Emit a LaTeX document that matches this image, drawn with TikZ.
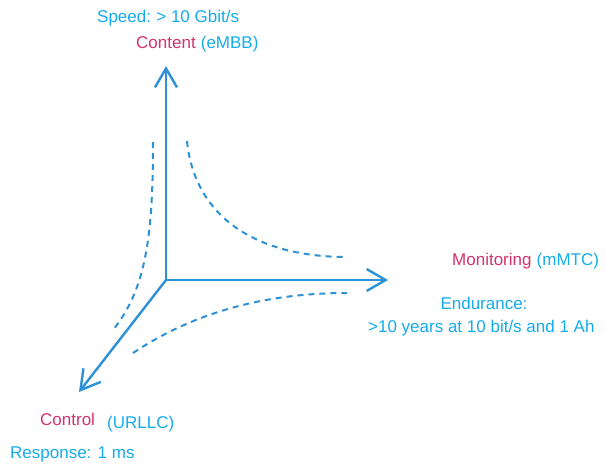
\documentclass[tikz,border=0pt]{standalone}
\usepackage{fontspec}
\setmainfont{Liberation Sans}
\usetikzlibrary{arrows.meta}
\definecolor{axisblue}{RGB}{45,145,215}
\definecolor{txtblue}{RGB}{20,172,235}
\definecolor{txtmag}{RGB}{210,50,110}
\begin{document}
\begin{tikzpicture}[x=1pt,y=-1pt,
  axis/.style={draw=axisblue,line width=2.4pt,-{Straight Barb[length=19pt,width=22pt,line width=2.4pt]}},
  dcurve/.style={draw=axisblue,line width=2pt,dash pattern=on 6pt off 5pt},
  lbl/.style={inner sep=0pt,anchor=base west,font=\fontsize{17}{20}\selectfont},
  blue/.style={text=txtblue},
  mag/.style={text=txtmag}]
\useasboundingbox (0,0) rectangle (606,464);
\coordinate (O) at (166,280);
\coordinate (T) at (166,66);
\coordinate (R) at (388,280);
\coordinate (L) at (79,392);
\draw[axis] (O) -- (T);
\draw[axis] (O) -- (R);
\draw[axis] (O) -- (L);
\draw[dcurve] (153,142) .. controls (153,240) and (145,290) .. (113,330);
\draw[dcurve] (187,141) .. controls (195,220) and (260,257) .. (347,257);
\draw[dcurve] (133,353) .. controls (190,315) and (260,293) .. (347,293);
\node[lbl,blue] (speed) at (97,22.5) {Speed:\kern-1pt{} > 10 Gbit/s};
\node[lbl,mag] (content) at (136,48.5) {Content};
\node[lbl,blue] (embb) at (content.base east) {\ (eMBB)};
\node[lbl,mag] (mon) at (452,265) {Monitoring};
\node[lbl,blue] (mmtc) at (mon.base east) {\ (mMTC)};
\node[lbl,blue,anchor=base] (end) at (484,309) {Endurance:};
\node[lbl,blue] (endv) at (368,332) {>10 years at 10 bit/s and 1 Ah};
\node[lbl,mag] (ctrl) at (40,425) {Control};
\node[lbl,blue] (urllc) at (107,428) {(URLLC)};
\node[lbl,blue] (resp) at (10,458) {Response: 1 ms};
\end{tikzpicture}
\end{document}
